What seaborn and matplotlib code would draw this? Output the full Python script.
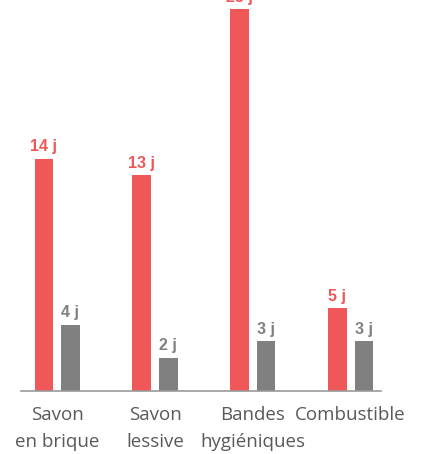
import matplotlib
matplotlib.use("Agg")
import matplotlib.pyplot as plt
import seaborn as sns
import pandas as pd

categories = ["Savon\nen brique", "Savon\nlessive", "Bandes\nhygiéniques", "Combustible"]
series = ["A", "B"]
values_red = [14, 13, 23, 5]
values_gray = [4, 2, 3, 3]
value_labels_red = ["14 j", "13 j", "23 j", "5 j"]
value_labels_gray = ["4 j", "2 j", "3 j", "3 j"]

colors = {"A": "#EF5758", "B": "#808080"}

df = pd.DataFrame({
    "cat": categories * 2,
    "series": ["A"] * 4 + ["B"] * 4,
    "val": values_red + values_gray,
})

sns.set_theme(style="white")
plt.rcParams["font.family"] = ["Open Sans", "DejaVu Sans"]

fig = plt.figure(figsize=(4.42, 4.54), dpi=100)
ax = fig.add_axes([21 / 442, 63 / 454, 360 / 442, 391 / 454])

sns.barplot(data=df, x="cat", y="val", hue="series", order=categories,
            hue_order=series, palette=colors, width=0.54, gap=0.29,
            legend=False, ax=ax, saturation=1, linewidth=0)

ax.set_ylim(0, 391 / 16.6)
ax.set_xlim(-0.37, 3.31)
ax.set_xlabel("")
ax.set_ylabel("")
ax.set_yticks([])
for s in ["left", "right", "top"]:
    ax.spines[s].set_visible(False)
ax.spines["bottom"].set_color("#9a9a9a")
ax.spines["bottom"].set_linewidth(1.2)
ax.tick_params(axis="x", length=0, pad=11, labelsize=13.5, colors="#595959")
for t in ax.get_xticklabels():
    t.set_linespacing(1.6)
    t.set_verticalalignment("top")

label_sets = {"A": value_labels_red, "B": value_labels_gray}
for cont, s in zip(ax.containers, series):
    for bar, lab in zip(cont, label_sets[s]):
        ax.text(bar.get_x() + bar.get_width() / 2, bar.get_height() + 0.45, lab,
                ha="center", va="baseline", fontsize=11.5, fontweight="bold",
                family="Liberation Sans", color=colors[s], clip_on=False)

fig.savefig("out.png", dpi=100)
